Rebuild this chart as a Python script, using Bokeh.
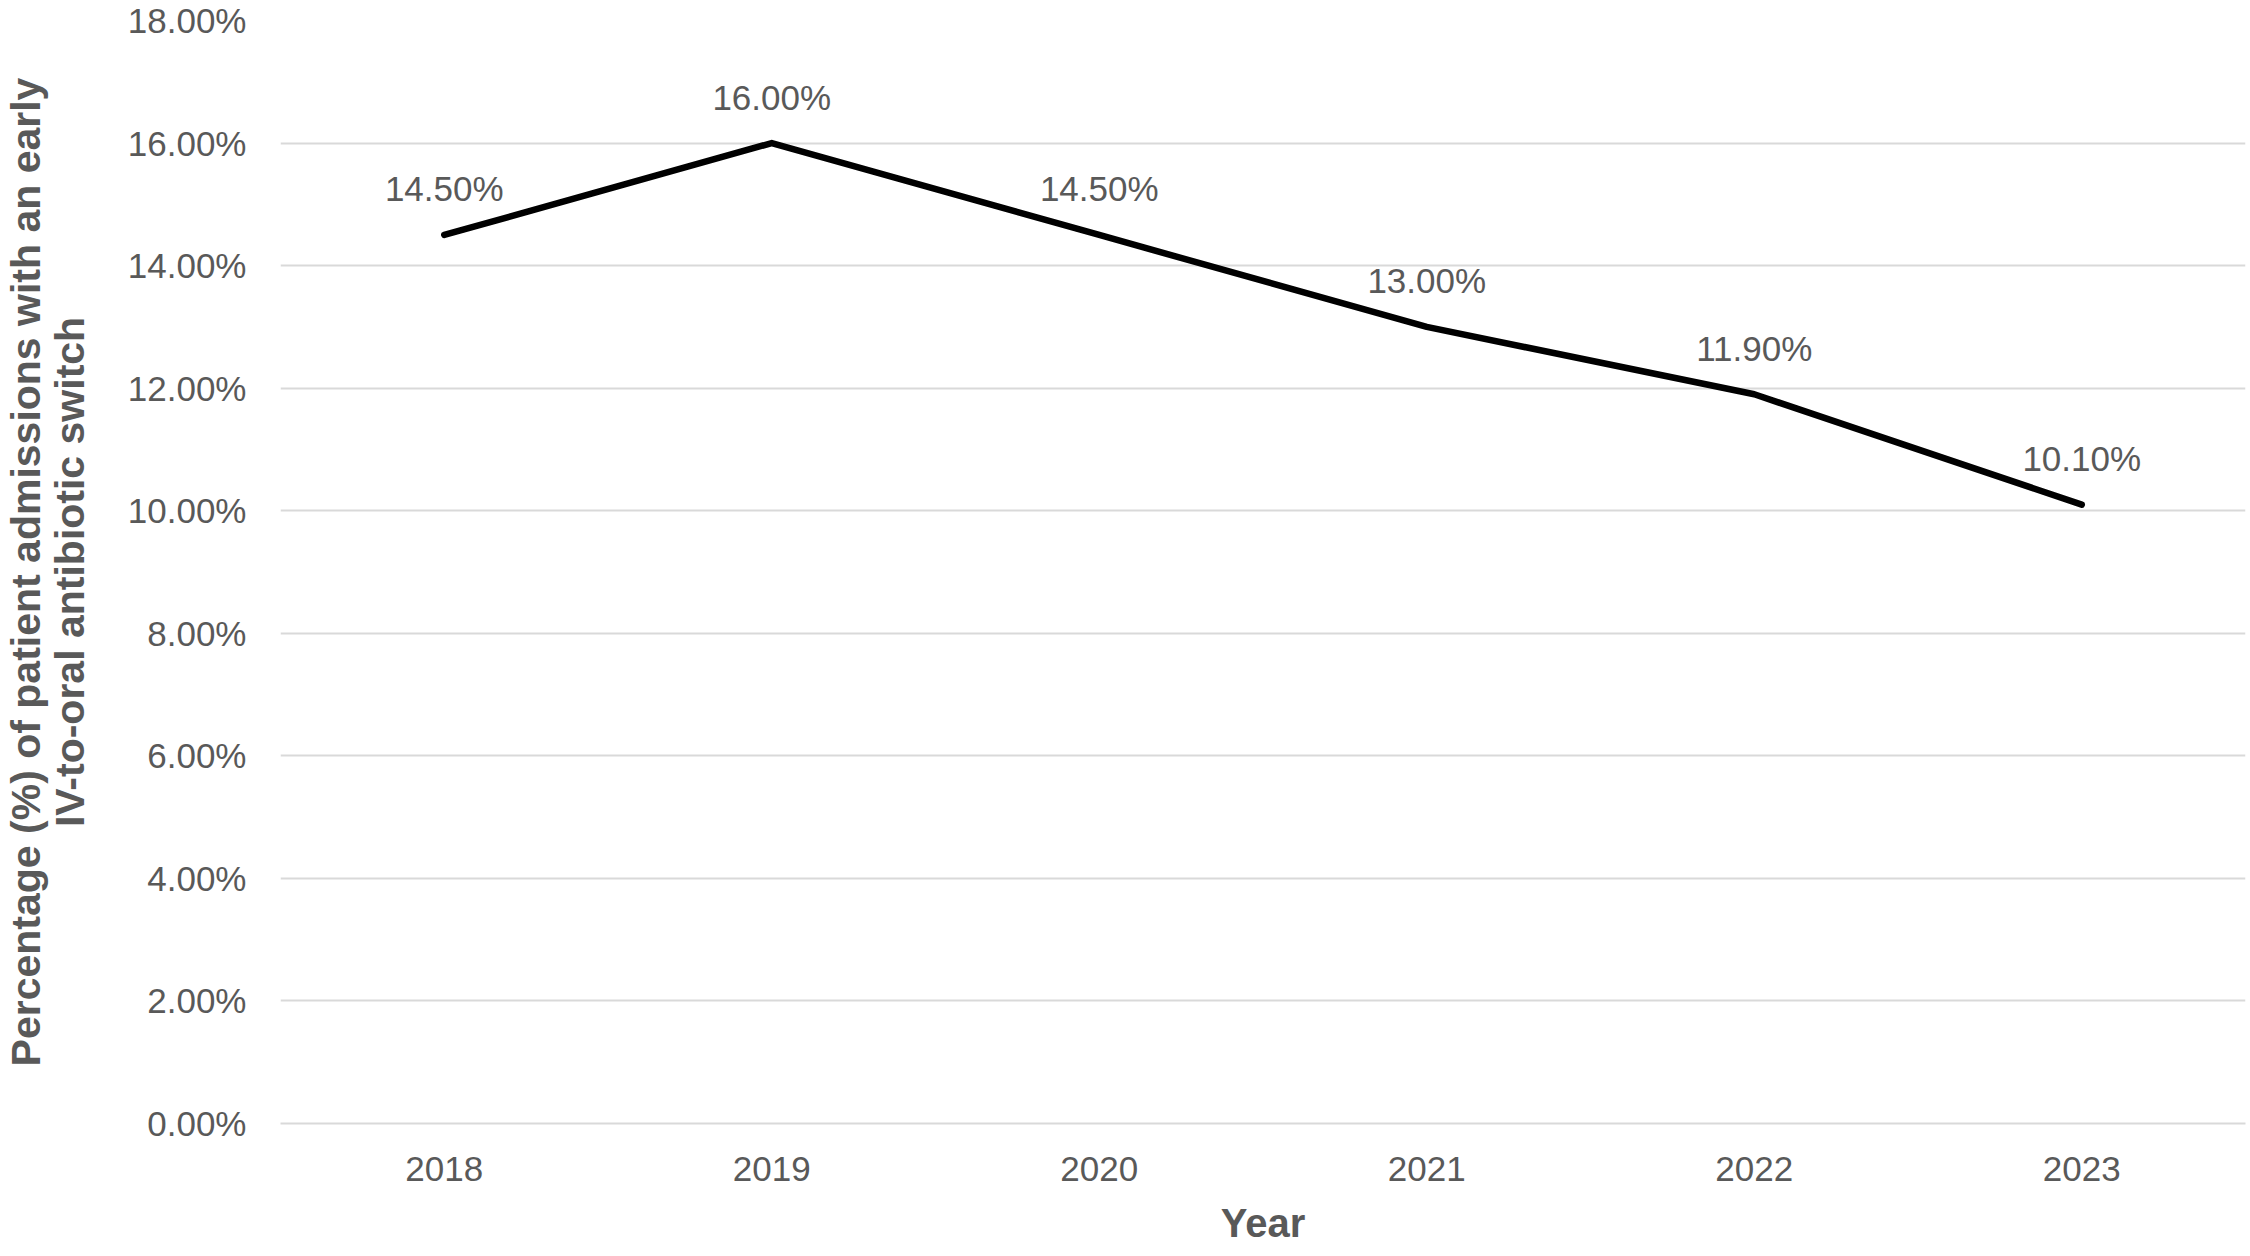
from bokeh.plotting import figure
from bokeh.models import (ColumnDataSource, Range1d, FactorRange, NumeralTickFormatter,
                          FixedTicker, LabelSet)
from bokeh.core.properties import value
from bokeh.embed import file_html
from bokeh.resources import INLINE

years = ["2018", "2019", "2020", "2021", "2022", "2023"]
pct_values = [14.50, 16.00, 14.50, 13.00, 11.90, 10.10]
y_ticks = [0, 2, 4, 6, 8, 10, 12, 14, 16, 18]

FONT = "Liberation Sans"
TXT = "#595959"

src = ColumnDataSource(dict(
    x=years,
    y=[v / 100 for v in pct_values],
    lab=[f"{v:.2f}%" for v in pct_values],
))

p = figure(width=2246, height=1256, output_backend="svg", toolbar_location=None,
           x_range=FactorRange(*years, range_padding=0),
           y_range=Range1d(0, 0.18),
           min_border_left=280, min_border_right=1, min_border_top=20,
           min_border_bottom=133)
p.outline_line_color = None
p.background_fill_color = "white"
p.border_fill_color = "white"

p.line("x", "y", source=src, line_color="black", line_width=6.5, line_join="round",
       line_cap="round")

labels = LabelSet(x="x", y="y", text="lab", source=src, y_offset=46,
                  text_align="center", text_baseline="middle",
                  text_font=value(FONT), text_font_size=value("35px"),
                  text_color=TXT)
p.add_layout(labels)

# grid
p.xgrid.grid_line_color = None
p.ygrid.grid_line_color = "#d9d9d9"
p.ygrid.grid_line_width = 2

# y axis
yax = p.yaxis[0]
yax.ticker = FixedTicker(ticks=[t / 100 for t in y_ticks])
yax.formatter = NumeralTickFormatter(format="0.00%")
yax.axis_line_color = None
yax.major_tick_line_color = None
yax.minor_tick_line_color = None
yax.major_tick_out = 0
yax.major_tick_in = 0
yax.major_label_standoff = 34
yax.major_label_text_font = FONT
yax.major_label_text_font_size = "35px"
yax.major_label_text_color = TXT
yax.axis_label = "Percentage (%) of patient admissions with an early\nIV-to-oral antibiotic switch"
yax.axis_label_text_font = FONT
yax.axis_label_text_font_size = "41px"
yax.axis_label_text_font_style = "bold"
yax.axis_label_text_color = TXT
yax.axis_label_text_line_height = 0.95
yax.axis_label_standoff = 32

# x axis
xax = p.xaxis[0]
xax.axis_line_color = "#d9d9d9"
xax.axis_line_width = 2
xax.major_tick_line_color = None
xax.minor_tick_line_color = None
xax.major_tick_out = 0
xax.major_tick_in = 0
xax.major_label_standoff = 33
xax.major_label_text_font = FONT
xax.major_label_text_font_size = "35px"
xax.major_label_text_color = TXT
xax.axis_label = "Year"
xax.axis_label_text_font = FONT
xax.axis_label_text_font_size = "40px"
xax.axis_label_text_font_style = "bold"
xax.axis_label_text_color = TXT
xax.axis_label_standoff = 17

open("out.html", "w").write(file_html(p, INLINE))
